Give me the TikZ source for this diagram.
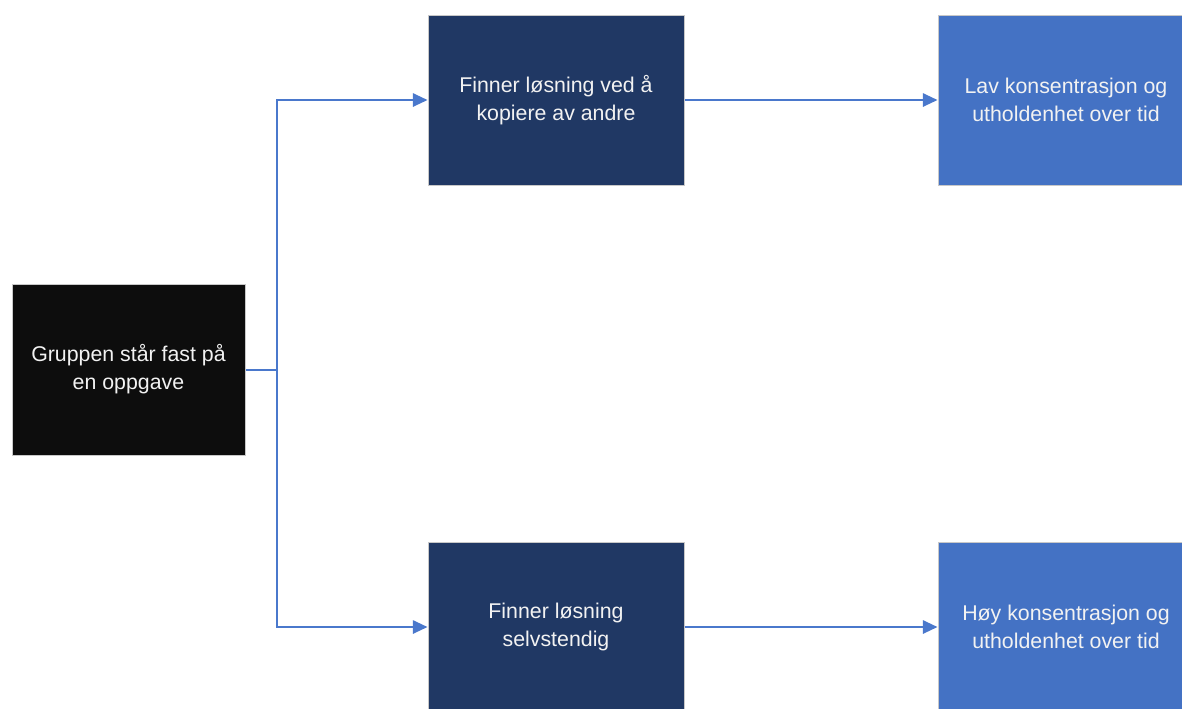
\documentclass[tikz,border=0pt]{standalone}
\usepackage{fontspec}
\setmainfont{Liberation Sans}
\usetikzlibrary{arrows.meta}
\definecolor{navybox}{HTML}{203864}
\definecolor{bluebox}{HTML}{4472C4}
\definecolor{blackbox}{HTML}{0D0D0D}
\definecolor{boxline}{HTML}{C8C8C8}
\definecolor{connc}{HTML}{4A78CC}
\begin{document}
\begin{tikzpicture}[x=0.75pt,y=-0.75pt,
  box/.style={draw=boxline, line width=0.75pt, text=white!95!black, align=center,
    font=\fontsize{16}{21}\selectfont, inner sep=0pt,
    minimum width=192pt, minimum height=127.5pt},
  conn/.style={draw=connc, line width=1.5pt},
  arr/.style={conn, -{Triangle[length=11pt,width=10pt]}}]
\useasboundingbox (0,0) rectangle (1182,708);
\clip (0,0) rectangle (1182,708);
\node[box, fill=blackbox, minimum width=174.75pt, minimum height=128.25pt] (g) at (128.5,369.5) {Gruppen står fast på\\en oppgave};
\node[box, fill=navybox] (kop) at (556,100) {Finner løsning ved å\\kopiere av andre};
\node[box, fill=navybox] (selv) at (556,627) {Finner løsning\\selvstendig};
\node[box, fill=bluebox] (lav) at (1066,100) {Lav konsentrasjon og\\utholdenhet over tid};
\node[box, fill=bluebox] (hoy) at (1066,627) {Høy konsentrasjon og\\utholdenhet over tid};
\coordinate (split) at (277,369.5);
\draw[conn] (g.east) -- (split);
\draw[arr] (split) |- (kop.west);
\draw[arr] (split) |- (selv.west);
\draw[arr] (kop.east) -- (lav.west);
\draw[arr] (selv.east) -- (hoy.west);
\end{tikzpicture}
\end{document}
